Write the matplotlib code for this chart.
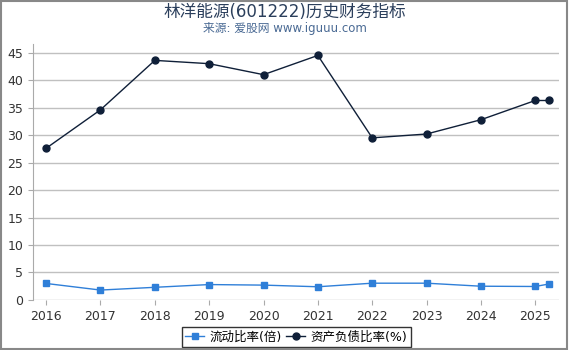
import matplotlib.pyplot as plt

plt.rcParams['font.family'] = ['DejaVu Sans', 'Noto Sans CJK SC']

years = [2016, 2017, 2018, 2019, 2020, 2021, 2022, 2023, 2024, 2025, 2025.25]
current_ratio = [3.0, 1.8, 2.3, 2.8, 2.7, 2.4, 3.05, 3.05, 2.5, 2.45, 2.9]
debt_ratio = [27.6, 34.6, 43.6, 43.0, 41.0, 44.5, 29.5, 30.2, 32.8, 36.3, 36.3]
xticks = [2016, 2017, 2018, 2019, 2020, 2021, 2022, 2023, 2024, 2025]

fig = plt.figure(figsize=(5.7, 3.5), dpi=100)
ax = fig.add_axes([0.058, 0.143, 0.923, 0.73])

ax.plot(years, current_ratio, color='#2f7fd8', marker='s', markersize=5,
        linewidth=1, label='流动比率(倍)')
ax.plot(years, debt_ratio, color='#0f1f38', marker='o', markersize=5,
        linewidth=1, label='资产负债比率(%)')

ax.set_xlim(2015.76, 2025.44)
ax.set_ylim(0, 46.5)
ax.set_xticks(xticks)
ax.set_yticks(range(0, 50, 5))
ax.grid(axis='y', color='#c0c0c0', linewidth=1)
ax.set_axisbelow(True)
for s in ['top', 'right', 'bottom']:
    ax.spines[s].set_visible(False)
ax.spines['left'].set_color('#aaaaaa')
ax.tick_params(axis='both', colors='#aaaaaa', labelcolor='#333333', labelsize=9)

fig.text(0.5, 0.965, '林洋能源(601222)历史财务指标', ha='center', va='center',
         fontsize=12, color='#2b3f5c')
fig.text(0.5, 0.918, '来源: 爱股网 www.iguuu.com', ha='center', va='center',
         fontsize=8.5, color='#4a6a94')

leg = ax.legend(loc='upper center', bbox_to_anchor=(0.5, -0.08), ncol=2,
                fontsize=9, frameon=True, fancybox=False, handlelength=1.5,
                handletextpad=0.4, columnspacing=0.4, borderpad=0.3)
leg.get_frame().set_edgecolor('black')
leg.get_frame().set_linewidth(1)

fig.patches.append(plt.Rectangle((0.001, 0.003), 0.994, 0.994, transform=fig.transFigure,
                                 fill=False, edgecolor='#888888', linewidth=1.5))

fig.savefig('out.png', dpi=100)
